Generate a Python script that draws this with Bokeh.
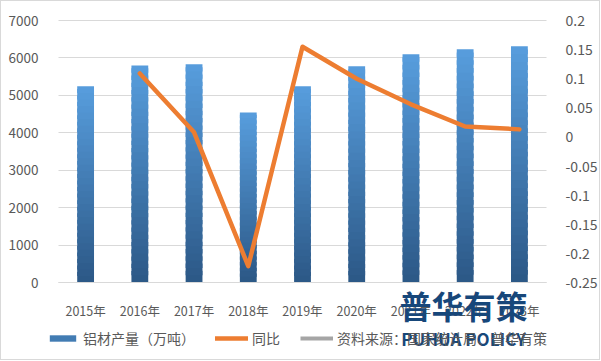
from bokeh.plotting import figure
from bokeh.models import Range1d, LinearAxis, Legend, LegendItem, FixedTicker, ColumnDataSource, Label
from bokeh.embed import file_html
from bokeh.resources import INLINE

years = ["2015年", "2016年", "2017年", "2018年", "2019年", "2020年", "2021年", "2022年", "2023年"]
output = [5240, 5800, 5830, 4545, 5240, 5775, 6100, 6230, 6310]
yoy_years = ["2016年", "2017年", "2018年", "2019年", "2020年", "2021年", "2022年", "2023年"]
yoy = [0.109, 0.008, -0.222, 0.155, 0.100, 0.056, 0.018, 0.013]
left_ticks = [0, 1000, 2000, 3000, 4000, 5000, 6000, 7000]
right_ticks = [-0.25, -0.2, -0.15, -0.1, -0.05, 0, 0.05, 0.1, 0.15, 0.2]
right_labels = ["-0.25", "-0.2", "-0.15", "-0.1", "-0.05", "0", "0.05", "0.1", "0.15", "0.2"]
legend_labels = ["铝材产量（万吨）", "同比", "资料来源：国家统计局、普华有策"]

FONT = "Noto Sans CJK SC"
TXT = "#595959"

# layout (pixels inside the figure)
W, H = 600, 360
cat_left, cat_right = 57, 545          # plot-area horizontal extent
top_px, zero_px = 19, 281             # pixel rows of axis max and axis min
n = len(years)
ppu_x = (cat_right - cat_left) / n
x_start = -0.5 - cat_left / ppu_x
x_end = n - 0.5 + (W - cat_right) / ppu_x
lmax, lmin = 7000, 0
rmax, rmin = 0.2, -0.25
upp_l = (lmax - lmin) / (zero_px - top_px)
upp_r = (rmax - rmin) / (zero_px - top_px)

xpos = list(range(n))
ymap = {y: i for i, y in enumerate(years)}
yoy_x = [ymap[y] for y in yoy_years]

p = figure(width=W, height=H, output_backend="svg", toolbar_location=None,
           x_range=Range1d(x_start, x_end),
           y_range=Range1d(lmin - (H - zero_px) * upp_l, lmax + top_px * upp_l),
           min_border_left=0, min_border_right=0, min_border_top=0, min_border_bottom=0,
           x_axis_location=None, y_axis_location=None)
p.extra_y_ranges = {"r": Range1d(rmin - (H - zero_px) * upp_r, rmax + top_px * upp_r)}
p.outline_line_color = None
p.xgrid.grid_line_color = None

# gradient bars: stacked slices
N = 30
top_c = (88, 158, 222)
bot_c = (44, 88, 134)
bar_renderer = None
for k in range(N):
    f = (k + 0.5) / N
    c = tuple(int(bot_c[i] + (top_c[i] - bot_c[i]) * f) for i in range(3))
    col = "#%02x%02x%02x" % c
    src = ColumnDataSource(dict(x=xpos,
                                b=[v * k / N for v in output],
                                t=[v * min(k + 1.6, N) / N for v in output]))
    r = p.vbar(x="x", bottom="b", top="t", width=0.31, source=src,
               fill_color=col, line_color=None)
    if k == N // 2:
        bar_renderer = r

line_r = p.line(yoy_x, yoy, y_range_name="r", line_color="#ED7D31", line_width=4.5,
                line_join="round", line_cap="round")
gray_r = p.line([0, 1], [-50000, -50000], line_color="#A5A5A5", line_width=4)

# grid lines limited to plot area
p.ygrid.ticker = FixedTicker(ticks=left_ticks)
p.ygrid.grid_line_color = "#D9D9D9"
try:
    p.ygrid.cross_bounds = (-0.5, n - 0.5)
except Exception:
    p.ygrid.grid_line_color = None
    p.segment(x0=[-0.5] * len(left_ticks), x1=[n - 0.5] * len(left_ticks),
              y0=left_ticks, y1=left_ticks, line_color="#D9D9D9", line_width=1)

la = LinearAxis(ticker=FixedTicker(ticks=left_ticks), fixed_location=-0.5)
la.axis_line_color = None
la.major_tick_line_color = None
la.minor_tick_line_color = None
la.major_label_text_font = FONT
la.major_label_text_font_size = "13.5px"
la.major_label_text_color = TXT
la.major_label_standoff = 14
p.add_layout(la, "left")

ra = LinearAxis(y_range_name="r", ticker=FixedTicker(ticks=right_ticks), fixed_location=n - 0.5)
ra.major_label_overrides = {t: l for t, l in zip(right_ticks, right_labels)}
ra.axis_line_color = None
ra.major_tick_line_color = None
ra.minor_tick_line_color = None
ra.major_label_text_font = FONT
ra.major_label_text_font_size = "14px"
ra.major_label_text_color = TXT
ra.major_label_standoff = 13
p.add_layout(ra, "right")

xa = LinearAxis(ticker=FixedTicker(ticks=xpos), fixed_location=0, bounds=(-0.5, n - 0.5))
xa.major_label_overrides = {i: y for i, y in enumerate(years)}
xa.axis_line_color = "#D9D9D9"
xa.major_tick_line_color = None
xa.minor_tick_line_color = None
xa.major_label_text_font = FONT
xa.major_label_text_font_size = "12.5px"
xa.major_label_text_color = TXT
xa.major_label_standoff = 12
p.add_layout(xa, "below")

legend = Legend(items=[
    LegendItem(label=legend_labels[0], renderers=[bar_renderer]),
    LegendItem(label=legend_labels[1], renderers=[line_r]),
    LegendItem(label=legend_labels[2], renderers=[gray_r]),
], orientation="horizontal", label_text_font=FONT, label_text_font_size="14px",
    label_text_color=TXT, glyph_width=33, glyph_height=8, spacing=20, label_standoff=4,
    border_line_color=None, background_fill_alpha=0, padding=2, margin=0,
    location=(45, 13))
p.add_layout(legend, "center")

wx = (462 - cat_left) / ppu_x - 0.5
p.add_layout(Label(x=wx, y=-(303 - zero_px) * upp_l, text="普华有策",
                   text_font=FONT, text_font_style="bold", text_font_size="32px",
                   text_color="#17477A", text_align="center", text_baseline="middle"))
p.add_layout(Label(x=wx, y=-(337 - zero_px) * upp_l, text="PUHUA POLICY",
                   text_font=FONT, text_font_style="bold", text_font_size="17px",
                   text_color="#17477A", text_align="center", text_baseline="middle"))

p.styles = {"border": "1px solid #D9D9D9"}

open("out.html", "w").write(file_html(p, INLINE))
